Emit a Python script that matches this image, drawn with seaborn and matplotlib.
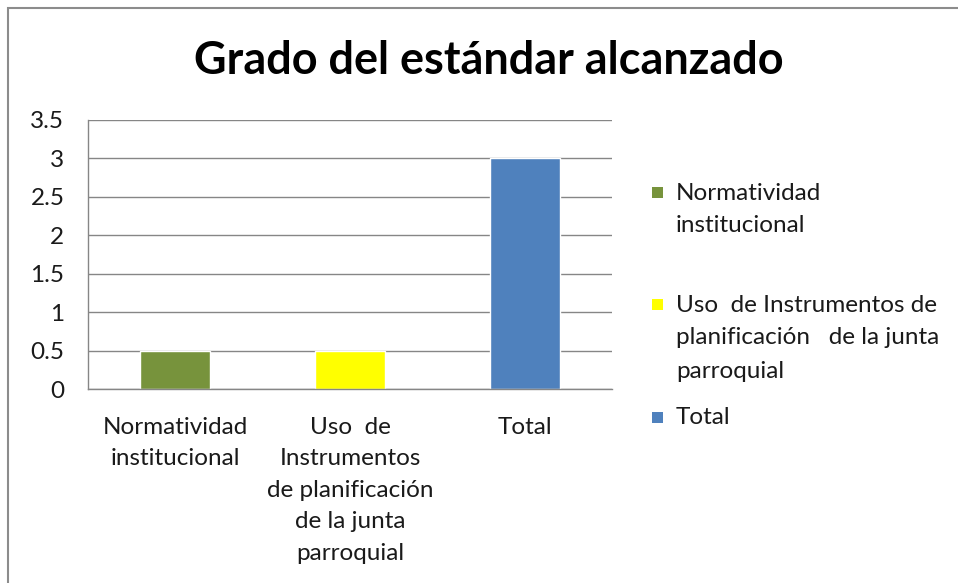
import matplotlib
matplotlib.use("Agg")
import matplotlib.pyplot as plt
from matplotlib.patches import Rectangle
import seaborn as sns
import pandas as pd

# Data
categories = [
    "Normatividad institucional",
    "Uso  de Instrumentos de planificación   de la junta parroquial",
    "Total",
]
values = [0.5, 0.5, 3.0]
axis_labels = [
    "Normatividad\ninstitucional",
    "Uso  de\nInstrumentos\nde planificación\nde la junta\nparroquial",
    "Total",
]
legend_lines = [
    ["Normatividad", "institucional"],
    ["Uso  de Instrumentos de", "planificación   de la junta", "parroquial"],
    ["Total"],
]
colors = ["#77933C", "#FFFF00", "#4F81BD"]
y_ticks = [0, 0.5, 1, 1.5, 2, 2.5, 3, 3.5]
y_tick_labels = ["0", "0.5", "1", "1.5", "2", "2.5", "3", "3.5"]

sns.set_theme(style="white")
plt.rcParams["font.family"] = ["Lato", "DejaVu Sans"]

W, H = 958, 583
fig = plt.figure(figsize=(W / 100, H / 100), dpi=100)
fig.patch.set_facecolor("white")

ax = fig.add_axes([88 / W, 1 - 389 / H, (612 - 88) / W, (389 - 120) / H])

df = pd.DataFrame({"cat": categories, "val": values})
sns.barplot(data=df, x="cat", y="val", hue="cat", palette=colors,
            width=0.4, legend=False, ax=ax, saturation=1)

ax.set_xlim(-0.5, 2.5)
ax.set_ylim(0, 3.5)
ax.set_yticks(y_ticks)
ax.set_yticklabels(y_tick_labels, fontsize=17.5, color="#1a1a1a")
ax.set_xticks(range(len(categories)))
ax.set_xticklabels(axis_labels, fontsize=17.5, color="#1a1a1a", linespacing=1.62)
ax.set_xticks([-0.5, 0.5, 1.5, 2.5], minor=True)
ax.tick_params(axis="x", which="major", length=0, pad=20)
ax.tick_params(axis="x", which="minor", length=8, width=1, color="#868686", direction="out")
ax.tick_params(axis="y", which="major", length=7, width=1, color="#868686", direction="out", pad=10)
ax.set_xlabel("")
ax.set_ylabel("")

ax.grid(axis="y", color="#868686", linewidth=1)
ax.set_axisbelow(True)
for side in ["top", "right"]:
    ax.spines[side].set_visible(False)
for side in ["left", "bottom"]:
    ax.spines[side].set_color("#868686")
    ax.spines[side].set_linewidth(1)

# Title
fig.text(489 / W, 1 - 61 / H, "Grado del estándar alcanzado",
         ha="center", va="center", fontsize=32.4, fontweight="bold", color="black")

# Legend drawn beside the plot
line_step = 33
starts = [193, 305, 418]
for color, lines, y0 in zip(colors, legend_lines, starts):
    fig.patches.append(Rectangle((652 / W, 1 - (y0 + 5) / H), 11 / W, 11 / H,
                                 transform=fig.transFigure, facecolor=color,
                                 edgecolor="none"))
    for i, line in enumerate(lines):
        fig.text(676 / W, 1 - (y0 + i * line_step) / H, line,
                 ha="left", va="center", fontsize=17.5, color="#1a1a1a")

# Outer chart frame
fig.patches.append(Rectangle((8 / W, -0.1), 1.2, 1.1 - 8 / H,
                             transform=fig.transFigure, facecolor="none",
                             edgecolor="#8c8c8c", linewidth=1.5))

fig.savefig("out.png", dpi=100)
